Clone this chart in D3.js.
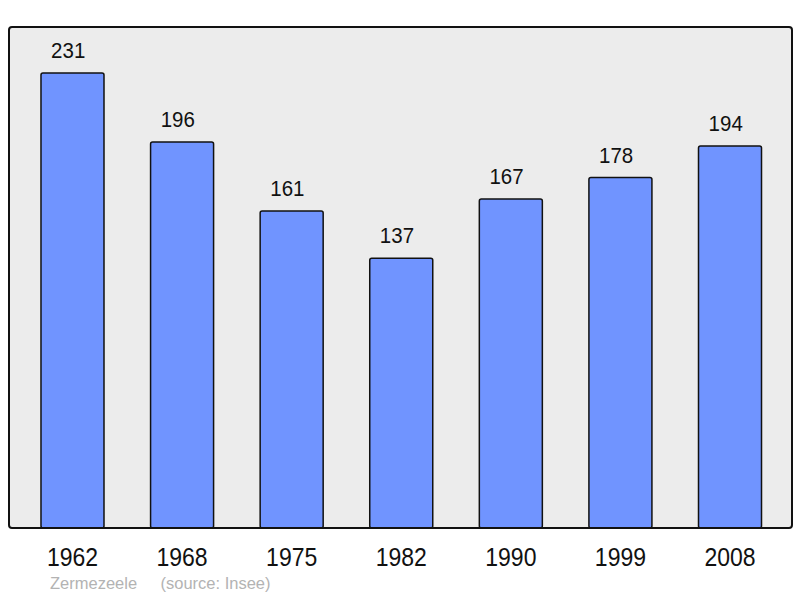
<!DOCTYPE html>
<meta charset="utf-8">
<style>
body { margin: 0; background: #fff; }
svg { display: block; font-family: "Liberation Sans", Arial, sans-serif; }
</style>
<svg width="800" height="598"></svg>
<script src="https://d3js.org/d3.v7.min.js"></script>
<script>
// population figures, one bar per census year
var years = ["1962", "1968", "1975", "1982", "1990", "1999", "2008"];
var population = [231, 196, 161, 137, 167, 178, 194];
var place = "Zermezeele";
var source = "(source: Insee)";

var svg = d3.select("svg");

var panel = {left: 9, top: 27, right: 792, bottom: 528};

var x = d3.scaleBand()
    .domain(years)
    .range([17.7, 784.8])
    .paddingInner(0.425)
    .paddingOuter(0.2125);

var y = d3.scaleLinear()
    .domain([0, 231])
    .range([panel.bottom, 73]);

// grey background box
svg.append("rect")
    .attr("x", panel.left)
    .attr("y", panel.top)
    .attr("width", panel.right - panel.left)
    .attr("height", panel.bottom - panel.top)
    .attr("rx", 3)
    .attr("fill", "#ececec")
    .attr("stroke", "none");

svg.append("g").selectAll("rect")
    .data(population)
    .enter().append("rect")
    .attr("x", function(d, i) { return x(years[i]); })
    .attr("y", function(d) { return y(d); })
    .attr("width", x.bandwidth())
    .attr("height", function(d) { return y(0) - y(d); })
    .attr("rx", 2)
    .attr("fill", "#7094ff")
    .attr("stroke", "#111")
    .attr("stroke-width", 1.5);

// value labels, a bit taller than wide like the original
svg.append("g").selectAll("text")
    .data(population)
    .enter().append("text")
    .attr("transform", function(d, i) {
        var cx = x(years[i]) + x.bandwidth() / 2 - 4.3;
        return "translate(" + cx + "," + (y(d) - 14.7) + ") scale(1,1.1)";
    })
    .attr("text-anchor", "middle")
    .attr("font-size", 20.5)
    .attr("fill", "#111")
    .text(function(d) { return d; });

// frame on top so it covers the bar bottoms
svg.append("rect")
    .attr("x", panel.left)
    .attr("y", panel.top)
    .attr("width", panel.right - panel.left)
    .attr("height", panel.bottom - panel.top)
    .attr("rx", 3)
    .attr("fill", "none")
    .attr("stroke", "#111")
    .attr("stroke-width", 2);

svg.append("g").selectAll("text")
    .data(years)
    .enter().append("text")
    .attr("transform", function(d) {
        return "translate(" + (x(d) + x.bandwidth() / 2) + ",566) scale(1,1.13)";
    })
    .attr("text-anchor", "middle")
    .attr("font-size", 23)
    .attr("fill", "#111")
    .text(function(d) { return d; });

svg.append("text")
    .attr("x", 50)
    .attr("y", 589)
    .attr("font-size", 16.5)
    .attr("fill", "#b3b3b3")
    .text(place);

svg.append("text")
    .attr("x", 160.5)
    .attr("y", 589)
    .attr("font-size", 16.5)
    .attr("fill", "#b3b3b3")
    .text(source);
</script>
